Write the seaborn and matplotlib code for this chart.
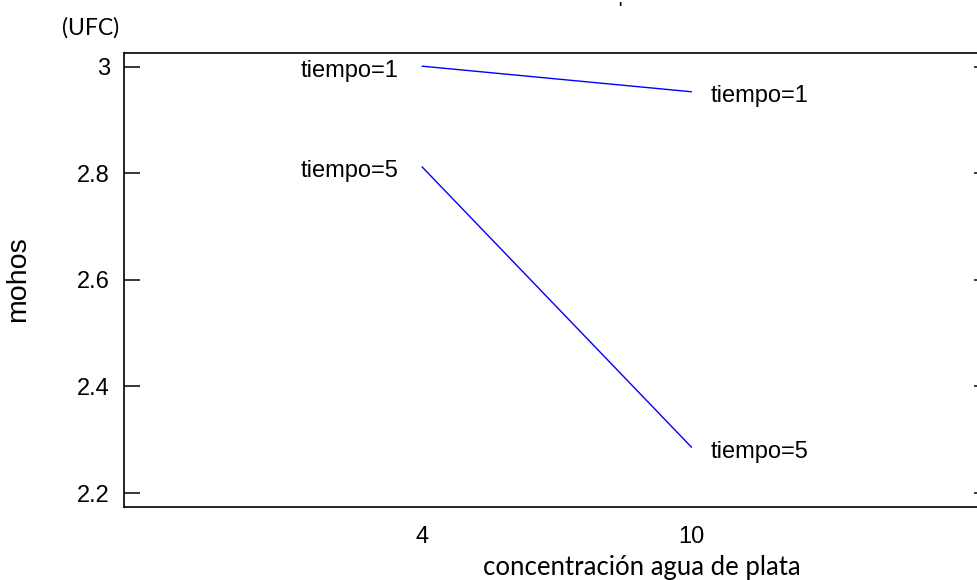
import matplotlib
matplotlib.use("Agg")
import matplotlib.pyplot as plt
import seaborn as sns
import pandas as pd

# ---- data ----
concentracion = [4, 10]
tiempo_1 = [3.001, 2.953]
tiempo_5 = [2.812, 2.286]
series_names = ["tiempo=1", "tiempo=5"]
y_ticks = [2.2, 2.4, 2.6, 2.8, 3.0]
y_tick_labels = ["2.2", "2.4", "2.6", "2.8", "3"]
x_ticks = [4, 10]
x_tick_labels = ["4", "10"]

df = pd.DataFrame({
    "conc": concentracion * 2,
    "mohos": tiempo_1 + tiempo_5,
    "tiempo": [series_names[0]] * 2 + [series_names[1]] * 2,
})

sns.set_theme(style="white")
plt.rcParams["font.family"] = ["Liberation Sans", "DejaVu Sans"]
plt.rcParams["text.color"] = "black"
plt.rcParams["axes.labelcolor"] = "black"
plt.rcParams["xtick.color"] = "black"
plt.rcParams["ytick.color"] = "black"

W, H = 978, 580
fig = plt.figure(figsize=(W / 100, H / 100), dpi=100)
ax = fig.add_axes([124 / W, (H - 506.5) / H, (989.6 - 124) / W, (506.5 - 52.7) / H])

sns.lineplot(data=df, x="conc", y="mohos", hue="tiempo",
             palette=["#0000ff", "#0000ff"], linewidth=1.0, legend=False, ax=ax)

ax.set_xlim(-2.64, 16.64)
ax.set_ylim(2.1747, 3.0263)
ax.set_yticks(y_ticks)
ax.set_yticklabels(y_tick_labels)
ax.set_xticks(x_ticks)
ax.set_xticklabels(x_tick_labels)

for s in ax.spines.values():
    s.set_color("black")
    s.set_linewidth(1.2)

ax.tick_params(axis="y", direction="in", length=11.5, width=1.1, color="black",
               left=True, right=True, labelsize=17, pad=10, labelcolor="black")
ax.tick_params(axis="x", length=0, labelsize=17, pad=14, labelcolor="black")

# labels at line ends
for name, vals in zip(series_names, [tiempo_1, tiempo_5]):
    ax.annotate(name, (concentracion[0], vals[0]), xytext=(-17.3, -7.5),
                textcoords="offset points", ha="right", va="baseline",
                fontsize=17, color="black")
    ax.annotate(name, (concentracion[1], vals[1]), xytext=(13.7, -7.5),
                textcoords="offset points", ha="left", va="baseline",
                fontsize=17, color="black")

ax.set_ylabel("mohos", fontsize=20.5, color="black")
ax.yaxis.label.set_verticalalignment("center")
ax.yaxis.set_label_coords((18 - 124) / 865.6, 0.501)

ax.set_xlabel("concentración agua de plata", fontsize=18.5, color="black",
              family=["Lato", "DejaVu Sans"])
ax.xaxis.label.set_verticalalignment("baseline")
ax.xaxis.set_label_coords((642 - 124) / 865.6, -(575 - 506.5) / 453.8)

fig.text(62 / W, 1 - 28 / H, "(UFC)", ha="left", va="center", fontsize=16.5,
         family=["Lato", "DejaVu Sans"], color="black")
fig.text(620 / W, 1 - 8 / H, "'", ha="center", va="center", fontsize=10,
         fontweight="bold", color="black")

fig.savefig("out.png", dpi=100, facecolor="white")
